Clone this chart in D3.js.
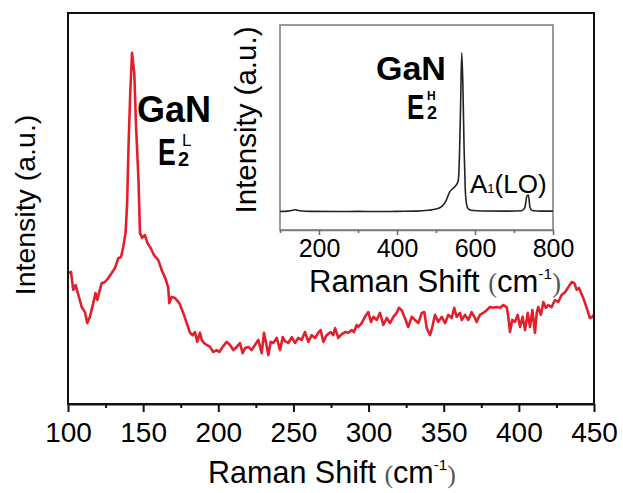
<!DOCTYPE html>
<html><head><meta charset="utf-8">
<script src="https://cdn.jsdelivr.net/npm/d3@7"></script>
<style>
body{margin:0;background:#fff}
svg{display:block}
text{font-family:"Liberation Sans",Arial,Helvetica,sans-serif;fill:#000}
</style>
</head><body>
<svg id="c" width="623" height="493"></svg>
<script>
// ---- data ----
const mainShift = [100.2,102.0,103.5,105.0,106.9,109.1,111.3,112.8,114.6,116.8,118.3,119.5,120.8,122.4,124.6,126.8,129.1,131.3,133.5,135.3,136.8,138.3,139.3,140.4,141.5,142.6,144.1,145.2,146.9,147.9,149.4,151.2,152.8,155.0,157.2,160.1,162.3,165.2,166.7,167.4,169.0,171.2,174.1,176.7,179.0,181.2,183.0,184.5,186.0,187.8,189.0,190.5,192.3,194.5,196.7,198.9,200.7,202.9,205.6,207.8,210.0,212.3,214.4,216.2,217.8,220.0,222.2,224.4,226.6,228.9,230.4,231.8,233.3,234.9,236.6,238.9,241.1,242.9,244.4,246.6,248.9,251.0,253.2,255.5,257.7,259.9,262.2,264.4,266.5,268.1,269.9,272.1,274.8,276.5,277.7,279.9,282.1,284.3,286.5,288.8,290.3,292.1,293.2,295.4,297.6,299.8,301.6,303.2,305.4,307.6,309.8,312.1,314.3,316.5,318.7,320.2,322.0,324.2,326.4,328.7,330.9,333.1,335.4,337.1,338.7,340.9,342.4,344.2,346.4,348.7,350.9,353.1,355.3,357.0,358.6,360.8,362.0,364.2,366.4,368.6,370.8,371.9,374.1,376.3,378.6,380.8,383.0,385.3,387.5,389.7,391.9,393.0,394.1,395.6,397.4,399.2,400.8,402.5,404.1,405.9,407.4,409.0,410.7,411.9,412.9,414.7,416.3,417.9,419.6,421.8,424.0,426.2,428.5,430.7,432.9,435.2,436.9,438.5,440.0,441.4,442.9,444.5,446.2,447.3,448.9,449.7];
const mainIntensity = [33.5,33.8,29.2,30.4,27.9,24.8,23.5,20.7,22.3,25.8,28.4,26.6,28.6,30.9,31.2,32.2,33.5,34.8,37.3,37.6,40.2,43.7,50.9,67.5,80.3,89.8,84.7,71.9,57.3,43.7,42.5,43.2,41.2,39.9,38.1,36.8,34.3,31.7,29.7,25.8,27.4,27.1,25.8,23.3,20.7,18.2,17.6,18.4,15.9,18.2,16.4,15.6,15.1,14.6,13.3,13.8,13.3,14.6,15.9,15.1,13.8,14.6,15.6,13.0,14.3,14.6,13.8,15.1,16.4,13.0,18.2,15.6,12.5,15.9,15.6,16.9,13.8,17.1,16.1,15.6,17.1,15.6,16.9,16.4,18.4,15.9,17.6,16.9,18.2,18.9,15.9,17.6,18.4,17.6,19.4,16.9,17.9,18.4,18.2,18.9,18.4,20.2,19.7,20.7,22.3,23.5,21.0,22.3,21.5,23.3,20.2,22.0,20.7,22.3,23.3,24.6,24.0,22.0,19.7,22.3,21.5,20.7,23.3,23.5,19.4,17.6,19.7,22.8,21.0,22.3,20.7,22.8,22.0,24.6,22.3,23.3,21.5,22.8,21.5,23.5,22.0,21.0,22.8,23.3,24.0,24.8,24.6,24.8,24.6,25.3,24.8,22.3,18.4,21.5,21.0,22.8,19.7,22.3,18.9,23.3,19.7,24.0,18.2,23.3,24.8,22.8,26.1,24.6,25.3,24.8,26.6,26.1,27.9,28.6,29.9,31.2,30.9,29.2,29.7,28.4,27.1,25.3,23.3,22.0,22.3,22.8];

const insetShift = [100,120,140,150,180,250,300,350,400,450,480,500,515,525,535,545,552,557,560,563,566,569,572,575,578,582,590,620,680,720,728,733,737,741,746,770,800];
const insetIntensity = [9.0,9.2,9.9,9.4,9.1,9.0,9.1,9.0,9.1,9.2,9.6,10.2,11.5,14.0,18.5,20.5,22.0,24.0,35.0,60.0,86.5,70.0,40.0,20.0,13.0,10.5,9.6,9.3,9.2,9.4,11.0,16.5,17.0,11.0,9.5,9.2,9.2];

const mainTicks = [100,150,200,250,300,350,400,450];
const mainMinorTicks = [125,175,225,275,325,375,425];
const insetTicks = [200,400,600,800];
const insetMinorTicks = [100,300,500,700];

// ---- drawing ----
const svg = d3.select("#c");
const F = '"Liberation Sans",Arial,sans-serif';
const SERIF = "'Liberation Serif','Times New Roman',serif";

function axisTitle(g, cx, cy, size){
  const t = g.append("text").attr("x",cx).attr("y",cy).attr("text-anchor","middle").attr("font-size",size);
  t.append("tspan").text("Raman Shift ");
  t.append("tspan").attr("font-family",SERIF).attr("fill","#555").attr("font-size",size*0.85).text("(");
  t.append("tspan").text("cm");
  t.append("tspan").attr("font-size",size*0.5).attr("dy",-size*0.42).text("-1");
  t.append("tspan").attr("font-family",SERIF).attr("fill","#555").attr("font-size",size*0.85).attr("dy",size*0.42).text(")");
}

// main plot
const x = d3.scaleLinear().domain([100,450]).range([68,594]);
const y = d3.scaleLinear().domain([0,100]).range([404,13]);

const line = d3.line().x((d,i)=>x(mainShift[i])).y((d,i)=>y(mainIntensity[i]));
svg.append("path").datum(mainIntensity).attr("d", line)
  .attr("fill","none").attr("stroke","#e31f2b").attr("stroke-width",2.6).attr("stroke-linejoin","round");

svg.append("rect").attr("x",x(100)).attr("y",y(100)).attr("width",x(450)-x(100)).attr("height",y(0)-y(100))
  .attr("fill","none").attr("stroke","#111").attr("stroke-width",2);

const ax = svg.append("g").attr("transform",`translate(0,${y(0)})`)
  .call(d3.axisBottom(x).tickValues(mainTicks).tickSize(8).tickPadding(10).tickSizeOuter(0).tickFormat(d3.format("d")));
ax.select(".domain").attr("stroke","#111").attr("stroke-width",2);
ax.selectAll(".tick line").attr("stroke","#111").attr("stroke-width",2);
ax.selectAll(".tick text").attr("font-size",28).attr("font-family",F).attr("fill","#000");
const axm = svg.append("g").attr("transform",`translate(0,${y(0)})`)
  .call(d3.axisBottom(x).tickValues(mainMinorTicks).tickSize(4).tickFormat(""));
axm.select(".domain").remove();
axm.selectAll(".tick line").attr("stroke","#111").attr("stroke-width",2);

axisTitle(svg, 332, 483, 30.5);

svg.append("text").attr("transform","translate(35,205) rotate(-90)").attr("text-anchor","middle")
  .attr("font-size",28.5).text("Intensity (a.u.)");

// main annotation
svg.append("text").attr("x",137).attr("y",122).attr("font-size",36).attr("font-weight","bold").text("GaN");
svg.append("text").attr("transform","translate(158,165) scale(0.72,1)").attr("font-size",37).attr("font-weight","bold").text("E");
svg.append("text").attr("x",182).attr("y",146).attr("font-size",17).text("L");
svg.append("text").attr("x",178).attr("y",166).attr("font-size",20).attr("font-weight","bold").text("2");

// inset
const xi = d3.scaleLinear().domain([100,800]).range([280,553]);
const yi = d3.scaleLinear().domain([0,100]).range([230,25]);
svg.append("rect").attr("x",xi(100)).attr("y",yi(100)).attr("width",xi(800)-xi(100)).attr("height",yi(0)-yi(100))
  .attr("fill","#fff").attr("stroke","#7a7a7a").attr("stroke-width",1.5);
const linei = d3.line().x((d,i)=>xi(insetShift[i])).y((d,i)=>yi(insetIntensity[i])).curve(d3.curveMonotoneX);
svg.append("path").datum(insetIntensity).attr("d", linei)
  .attr("fill","none").attr("stroke","#222").attr("stroke-width",1.6);

const axi = svg.append("g").attr("transform",`translate(0,${yi(0)})`)
  .call(d3.axisBottom(xi).tickValues(insetTicks).tickSize(5).tickPadding(4).tickSizeOuter(0).tickFormat(d3.format("d")));
axi.select(".domain").attr("stroke","#7a7a7a").attr("stroke-width",1.5);
axi.selectAll(".tick line").attr("stroke","#666").attr("stroke-width",1.5);
axi.selectAll(".tick text").attr("font-size",25).attr("font-family",F).attr("fill","#000");
const axim = svg.append("g").attr("transform",`translate(0,${yi(0)})`)
  .call(d3.axisBottom(xi).tickValues(insetMinorTicks).tickSize(3).tickFormat(""));
axim.select(".domain").remove();
axim.selectAll(".tick line").attr("stroke","#666").attr("stroke-width",1.5);

axisTitle(svg, 435, 292, 31);

svg.append("text").attr("transform","translate(256,120) rotate(-90)").attr("text-anchor","middle")
  .attr("font-size",29.5).text("Intensity (a.u.)");

svg.append("text").attr("x",376).attr("y",80).attr("font-size",34).attr("font-weight","bold").text("GaN");
svg.append("text").attr("transform","translate(407,119) scale(0.74,1)").attr("font-size",35).attr("font-weight","bold").text("E");
svg.append("text").attr("x",427).attr("y",100).attr("font-size",12).attr("font-weight","bold").text("H");
svg.append("text").attr("x",427).attr("y",119).attr("font-size",18).attr("font-weight","bold").text("2");

const a1 = svg.append("text").attr("x",470).attr("y",193).attr("font-size",26);
a1.append("tspan").text("A");
a1.append("tspan").attr("font-size",13).text("1");
a1.append("tspan").text("(LO)");
</script>
</body></html>
